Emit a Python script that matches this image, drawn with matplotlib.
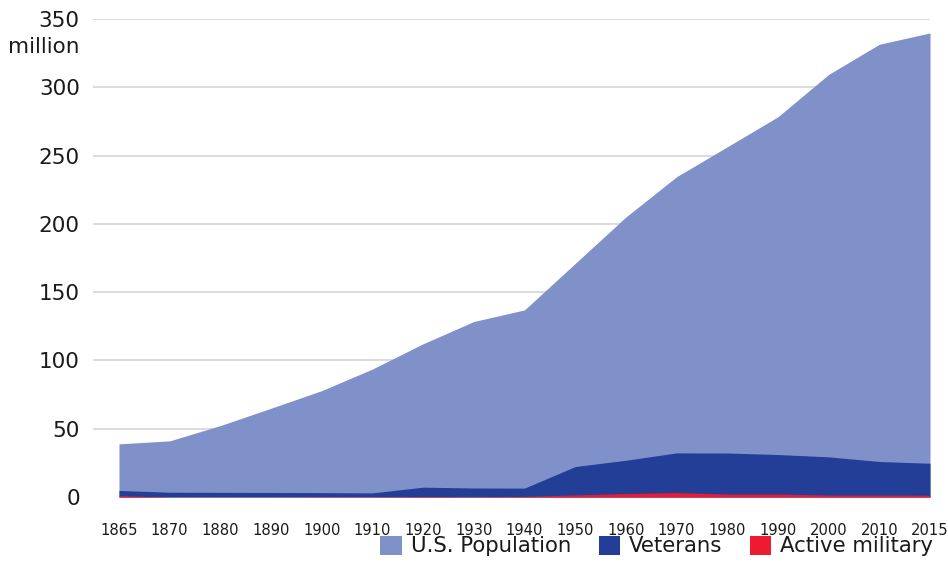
import matplotlib
matplotlib.use("Agg")
import matplotlib.pyplot as plt
from matplotlib.patches import Patch
import numpy as np

years = ["1865", "1870", "1880", "1890", "1900", "1910", "1920", "1930", "1940",
         "1950", "1960", "1970", "1980", "1990", "2000", "2010", "2015"]
population = [38.9, 41.1, 52.3, 65.0, 77.9, 93.7, 112.2, 128.5, 137.0,
              171.0, 205.0, 234.5, 256.4, 278.4, 309.4, 331.5, 339.8]
veterans = [4.8, 3.5, 3.4, 3.3, 3.2, 3.0, 7.2, 6.6, 6.5,
            22.3, 26.9, 32.3, 32.2, 31.1, 29.4, 26.0, 24.7]
active = [1.0, 0.1, 0.1, 0.1, 0.2, 0.2, 0.4, 0.3, 0.5,
          1.5, 2.5, 3.2, 2.1, 2.1, 1.4, 1.4, 1.3]
yticks = [0, 50, 100, 150, 200, 250, 300, 350]
legend_labels = ["U.S. Population", "Veterans", "Active military"]

c_pop = "#7f91c8"
c_vet = "#233e97"
c_act = "#ed1b2f"
txt = "#1a1a1a"

fig = plt.figure(figsize=(9.48, 5.84), dpi=100)
ax = fig.add_axes([93/948, (584-497)/584, 837/948, 478/584])
x = np.arange(len(years))

for yv in yticks[1:]:
    ax.axhline(yv, color="#d6d6d6", lw=1.2, zorder=0)

ax.fill_between(x, 0, population, color=c_pop, lw=0, zorder=2)
ax.fill_between(x, 0, veterans, color=c_vet, lw=0, zorder=3)
ax.fill_between(x, 0, active, color=c_act, lw=0, zorder=4)

ax.set_xlim(-26/50.69, len(years)-1)
ax.set_ylim(0, 350)
ax.set_xticks(x)
ax.set_xticklabels(years, fontsize=10.6, color=txt)
ax.set_yticks(yticks)
ax.set_yticklabels([str(v) for v in yticks], fontsize=15.5, color=txt)
ax.tick_params(axis="x", length=0, pad=18.5)
ax.tick_params(axis="y", length=0, pad=9.5)
for s in ax.spines.values():
    s.set_visible(False)

fig.text(79/948, 1-47/584, "million", ha="right", va="center", fontsize=15.5, color=txt)

handles = [Patch(facecolor=c, edgecolor="none") for c in (c_pop, c_vet, c_act)]
fig.legend(handles, legend_labels, loc="center right",
           bbox_to_anchor=(933/948, 1-546/584), ncol=3, frameon=False,
           fontsize=15.3, handlelength=1.0, handleheight=1.0,
           handletextpad=0.42, columnspacing=1.3, borderpad=0, borderaxespad=0,
           labelcolor=txt)

fig.savefig("out.png", dpi=100)
